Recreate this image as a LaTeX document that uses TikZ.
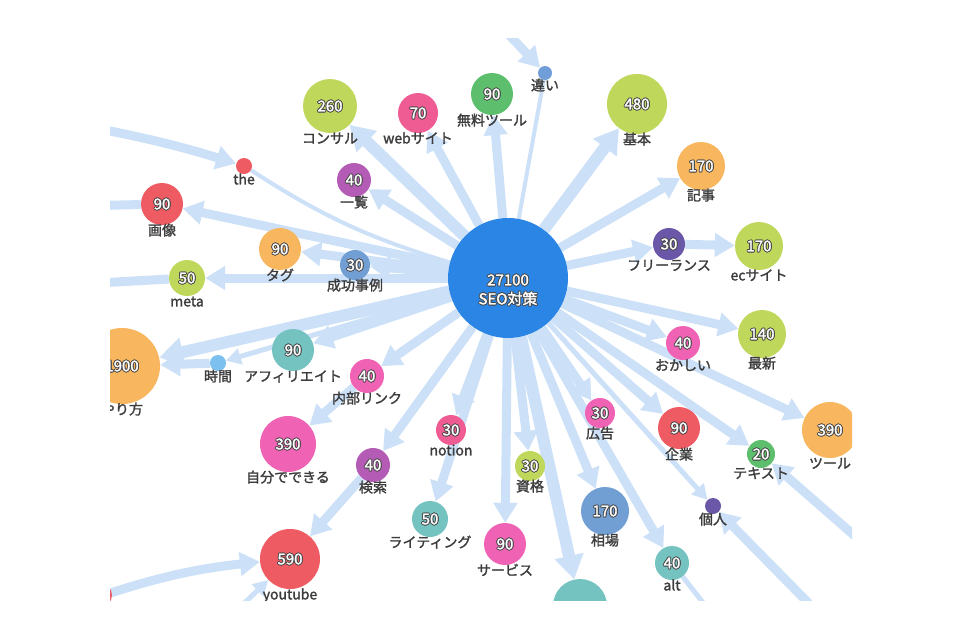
\documentclass[tikz,border=0pt]{standalone}
\usepackage{fontspec}
\setmainfont{Noto Sans CJK JP}
\newfontfamily\jpbold[FakeBold=1.6]{Noto Sans CJK JP}
\usetikzlibrary{arrows.meta,backgrounds}

\definecolor{seoblue}{HTML}{2B85E4}
\definecolor{lime}{HTML}{BFD85B}
\definecolor{rose}{HTML}{EF5B93}
\definecolor{magenta}{HTML}{F062B4}
\definecolor{leaf}{HTML}{5DBF6D}
\definecolor{sky}{HTML}{6F9ED9}
\definecolor{amber}{HTML}{F8B65F}
\definecolor{grape}{HTML}{6B57A7}
\definecolor{coral}{HTML}{EF5B63}
\definecolor{mint}{HTML}{74C3C1}
\definecolor{steel}{HTML}{719FD4}
\definecolor{orchid}{HTML}{B45BB5}
\definecolor{ice}{HTML}{7CC0EF}
\definecolor{edgeblue}{RGB}{204,225,248}
\definecolor{labelgrey}{HTML}{3C3C3C}
\definecolor{halogrey}{HTML}{4A4A4A}

\newcommand\numfont{\jpbold\fontsize{15}{19}\selectfont}
\newcommand\tagfont{\jpbold\fontsize{14}{16}\selectfont}
\newcommand\hl[3]{\rlap{\color{halogrey}\kern#1\raisebox{#2}{#3}}}
\newcommand\halo[1]{\leavevmode\hl{-.9pt}{0pt}{#1}\hl{.9pt}{0pt}{#1}\hl{0pt}{.9pt}{#1}\hl{0pt}{-.9pt}{#1}\hl{-.65pt}{-.65pt}{#1}\hl{.65pt}{.65pt}{#1}\hl{-.65pt}{.65pt}{#1}\hl{.65pt}{-.65pt}{#1}#1}
\newcommand\bub[7]{\node[bubble,fill=#5,minimum size=2*#4pt,label={[tagtext]below:#7}] (#1) at (#2,#3) {\halo{#6}};}

\begin{document}
\begin{tikzpicture}[x=1pt,y=-1pt,
  bubble/.style={circle,inner sep=0pt,text=white,font=\numfont},
  tagtext/.style={inner sep=0pt,text=labelgrey,font=\tagfont,text height=11pt,text depth=3pt,label distance=-1pt},
  edge/.style={draw=edgeblue,line width=9pt,-{Triangle[length=20pt,width=23pt]}},
  edgewide/.style={edge,line width=12pt,-{Triangle[length=24pt,width=28pt]}},
  edgethin/.style={edge,line width=5pt,-{Triangle[length=15pt,width=16pt]}},
  edgeline/.style={draw=edgeblue,line width=4pt}]

\useasboundingbox (0,0) rectangle (960,640);

\begin{scope}
\clip (110,38) rectangle (852,600);
\node[bubble,fill=seoblue,minimum size=120pt] (seo) at (508,278) {};
\node[bubble,align=center] (seo-t) at (508,290) {\halo{27100}\\\halo{SEO対策}};

\bub{konsaru}{330}{106}{27}{lime}{260}{コンサル}
\bub{web}{418}{113}{20}{rose}{70}{webサイト}
\bub{muryo}{492}{94}{21}{leaf}{90}{無料ツール}
\bub{chigai}{545}{73}{7}{sky}{}{違い}
\bub{kihon}{637}{104}{30}{lime}{480}{基本}
\bub{kiji}{701}{166}{24}{amber}{170}{記事}
\bub{furi}{669}{244}{16}{grape}{30}{フリーランス}
\bub{ec}{759}{246}{24}{lime}{170}{ecサイト}
\bub{saishin}{762}{334}{24}{lime}{140}{最新}
\bub{okashii}{683}{343}{17}{magenta}{40}{おかしい}
\bub{tool}{830}{430}{28}{amber}{390}{ツール}
\bub{text}{761}{454}{14}{leaf}{20}{テキスト}
\bub{kigyo}{679}{428}{21}{coral}{90}{企業}
\bub{kojin}{713}{506}{8}{grape}{}{個人}
\bub{alt}{672}{563}{17}{mint}{40}{alt}
\bub{soba}{605}{511}{24}{steel}{170}{相場}
\bub{kokoku}{600}{413}{15}{magenta}{30}{広告}
\bub{shikaku}{530}{466}{15}{lime}{30}{資格}
\bub{service}{505}{544}{21}{magenta}{90}{サービス}
\bub{writing}{430}{519}{18}{mint}{50}{ライティング}
\bub{notion}{451}{430}{15}{rose}{30}{notion}
\bub{kensaku}{373}{465}{17}{orchid}{40}{検索}
\bub{naibu}{367}{376}{17}{magenta}{40}{内部リンク}
\bub{jibun}{288}{444}{28}{magenta}{390}{自分でできる}
\bub{youtube}{290}{559}{30}{coral}{590}{youtube}
\bub{affi}{293}{350}{21}{mint}{90}{アフィリエイト}
\bub{jikan}{218}{363}{8}{ice}{}{時間}
\bub{yarikata}{122}{366}{38}{amber}{1900}{やり方}
\bub{meta}{187}{278}{18}{lime}{50}{meta}
\bub{tag}{280}{249}{21}{amber}{90}{タグ}
\bub{seiko}{355}{265}{15}{steel}{30}{成功事例}
\bub{gazo}{162}{204}{21}{coral}{90}{画像}
\bub{the}{244}{166}{8}{coral}{}{the}
\bub{ichiran}{354}{180}{17}{orchid}{40}{一覧}
\bub{bteal}{580}{606}{27}{mint}{}{}
\bub{lred}{100}{595}{12}{coral}{}{}

\coordinate (ctop) at (495,20);
\coordinate (cleft1) at (95,128);
\coordinate (cleft2) at (80,206);
\coordinate (cleft3) at (80,284);
\coordinate (cleft4) at (95,598);
\coordinate (cbot1) at (232,615);
\coordinate (cbot2) at (715,618);
\coordinate (cright1) at (880,558);
\coordinate (cright2) at (830,625);

\begin{pgfonlayer}{background}
\fill[white] (0,0) rectangle (960,640);
\clip (110,38) rectangle (852,600);
\draw[edgewide] (seo) -- (konsaru);
\draw[edge] (seo) -- (web);
\draw[edge] (seo) -- (muryo);
\draw[edgeline] (chigai) -- (seo);
\draw[edge] (ctop) -- (chigai);
\draw[edgewide] (seo) -- (kihon);
\draw[edge] (seo) -- (kiji);
\draw[edge] (seo) -- (furi);
\draw[edge] (furi) -- (ec);
\draw[edge] (seo) -- (saishin);
\draw[edge] (seo) -- (okashii);
\draw[edge] (seo) -- (tool);
\draw[edge] (seo) -- (text);
\draw[edge] (seo) -- (kigyo);
\draw[edgethin] (seo) -- (kojin);
\draw[edge] (seo) -- (alt);
\draw[edge] (seo) -- (soba);
\draw[edge] (seo) -- (kokoku);
\draw[edge] (seo) -- (shikaku);
\draw[edge] (seo) -- (service);
\draw[edgewide] (seo) -- (bteal);
\draw[edge] (seo) -- (writing);
\draw[edge] (seo) -- (notion);
\draw[edge] (seo) -- (kensaku);
\draw[edge] (kensaku) -- (youtube);
\draw[edge] (seo) -- (naibu);
\draw[edge] (naibu) -- (jibun);
\draw[edge] (seo) -- (affi);
\draw[edgewide] (seo) -- (yarikata);
\draw[edgethin] (seo) -- (jikan);
\draw[edge] (jikan) -- (yarikata);
\draw[edge] (seo) -- (seiko);
\draw[edge] (seo) -- (tag);
\draw[edge] (seo) -- (meta);
\draw[edge] (seo) -- (gazo);
\draw[edge] (seo) -- (ichiran);
\draw[edgeline] (the) to[bend right=8] (seo);
\draw[edge] (cleft1) to[bend left=3] (the);
\draw[edge] (gazo) -- (cleft2);
\draw[edge] (meta) -- (cleft3);
\draw[edge] (cleft4) to[bend left=6] (youtube);
\draw[edgethin] (cbot1) -- (youtube);
\draw[edgethin] (alt) -- (cbot2);
\draw[edge] (cright1) -- (text);
\draw[edge] (cright2) -- (kojin);
\end{pgfonlayer}
\end{scope}
\end{tikzpicture}
\end{document}
